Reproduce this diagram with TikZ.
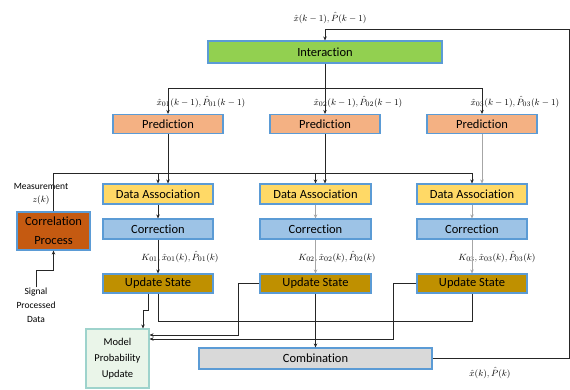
\documentclass[tikz,border=0pt]{standalone}
\usepackage{fontspec}
\setsansfont{Carlito}[RawFeature={-liga;-clig;-calt;-dlig}]
\usetikzlibrary{arrows.meta,calc}

\definecolor{edgeblue}{HTML}{5B9BD5}
\definecolor{intergreen}{HTML}{92D050}
\definecolor{predorange}{HTML}{F4B183}
\definecolor{dayellow}{HTML}{FFD966}
\definecolor{corblue}{HTML}{9DC3E6}
\definecolor{updgold}{HTML}{BF9000}
\definecolor{corrbrown}{HTML}{C55A11}
\definecolor{combgray}{HTML}{D9D9D9}
\definecolor{mpufill}{HTML}{EAF5E9}
\definecolor{mpuedge}{HTML}{9ED3CC}
\definecolor{linedark}{HTML}{262626}
\definecolor{linegray}{HTML}{A6A6A6}

\tikzset{
  box/.style={draw=edgeblue, line width=1.1pt, rectangle, inner sep=0pt,
    font=\sffamily\fontsize{12.5}{14}\selectfont, text=black, align=center},
  colbox/.style={box, minimum width=110pt, minimum height=20pt},
  conn/.style={draw=linedark, line width=0.9pt},
  arr/.style={conn, -{Stealth[length=4pt,width=3.5pt]}},
  garr/.style={draw=linegray, line width=0.8pt, -{Stealth[length=4pt,width=3.5pt]}},
  mathlbl/.style={font=\fontsize{9.5}{11}\selectfont, inner sep=0pt},
  smalltxt/.style={font=\sffamily\fontsize{9.5}{14}\selectfont, align=center, inner sep=0pt}
}

\begin{document}
\begin{tikzpicture}[x=1pt,y=-1pt]
\useasboundingbox (0,0) rectangle (570,389);

% main boxes
\node[box, fill=intergreen, minimum width=234pt, minimum height=22pt] (inter) at (325,52) {Interaction};

\node[colbox, fill=predorange, minimum height=19pt] (pred1) at (168,124) {Prediction};
\node[colbox, fill=predorange, minimum height=19pt] (pred2) at (325,124) {Prediction};
\node[colbox, fill=predorange, minimum height=19pt] (pred3) at (482,124) {Prediction};

\node[colbox, fill=dayellow] (da1) at (158,194) {Data Association};
\node[colbox, fill=dayellow, minimum width=111pt] (da2) at (315.5,194) {Data Association};
\node[colbox, fill=dayellow] (da3) at (472,194) {Data Association};

\node[colbox, fill=corblue] (cor1) at (158,229) {Correction};
\node[colbox, fill=corblue, minimum width=111pt] (cor2) at (315.5,229) {Correction};
\node[colbox, fill=corblue] (cor3) at (472,229) {Correction};

\node[colbox, fill=updgold, minimum height=19pt] (us1) at (158,283.5) {Update State};
\node[colbox, fill=updgold, minimum height=19pt, minimum width=111pt] (us2) at (315.5,283.5) {Update State};
\node[colbox, fill=updgold, minimum height=19pt] (us3) at (472,283.5) {Update State};

\node[box, fill=corrbrown, minimum width=73pt, minimum height=38pt,
      font=\sffamily\fontsize{12.5}{19}\selectfont] (corr) at (53.5,231) {Correlation\\Process};

\node[box, draw=mpuedge, fill=mpufill, minimum width=63pt, minimum height=59pt,
      font=\sffamily\fontsize{10.5}{16}\selectfont] (mpu) at (117.5,358.5) {Model\\Probability\\Update};

\node[box, fill=combgray, minimum width=233pt, minimum height=21pt] (comb) at (315.5,358.5) {Combination};

% text labels
\node[mathlbl] (lblTop) at (330,18) {$\hat{x}(k-1),\hat{P}(k-1)$};
\node[mathlbl] (lblP1) at (201,102) {$\hat{x}_{01}(k-1),\hat{P}_{01}(k-1)$};
\node[mathlbl] (lblP2) at (358,102) {$\hat{x}_{02}(k-1),\hat{P}_{02}(k-1)$};
\node[mathlbl] (lblP3) at (515,102) {$\hat{x}_{03}(k-1),\hat{P}_{03}(k-1)$};
\node[mathlbl] (lblK1) at (180,257) {$K_{01},\hat{x}_{01}(k),\hat{P}_{01}(k)$};
\node[mathlbl] (lblK2) at (337,257) {$K_{02},\hat{x}_{02}(k),\hat{P}_{02}(k)$};
\node[mathlbl] (lblK3) at (497,257) {$K_{03},\hat{x}_{03}(k),\hat{P}_{03}(k)$};
\node[mathlbl] (lblOut) at (490,373) {$\hat{x}(k),\hat{P}(k)$};
\node[smalltxt] (meas) at (41,186) {Measurement};
\node[mathlbl] (zk) at (41,200) {$z(k)$};
\node[smalltxt] (spd) at (36,305) {Signal\\Processed\\Data};

% feedback loop from combination back to interaction
\coordinate (fbLow) at (569,358.5);
\coordinate (fbHigh) at (569,29);
\draw[arr] (comb.east) -- (fbLow) -- (fbHigh) -| (inter.north);

% interaction fans out to the three predictions
\coordinate (fan) at (325,88);
\draw[conn] (inter.south) -- (fan);
\draw[arr] (fan) -| (pred1.north);
\draw[arr] (fan) -| (pred3.north);
\draw[arr] (fan) -- (pred2.north);

% predictions into data association
\draw[arr] (pred1.south) -- (pred1.south |- da1.north);
\draw[arr] (pred2.south) -- (pred2.south |- da2.north);
\draw[garr] (pred3.south) -- (pred3.south |- da3.north);

% measurement bus
\coordinate (mz) at (53.5,173);
\draw[conn] (corr.north) -- (mz) -- (mz -| da3.north);
\draw[arr] (mz -| da1.north) -- (da1.north);
\draw[arr] (mz -| da2.north) -- (da2.north);
\draw[arr] (mz -| da3.north) -- (da3.north);

% signal processed data into correlation
\draw[arr] (spd.north) -- ++(0,-17) -| (corr.south);

% per-model chains
\draw[arr] (da1.south) -- (cor1.north);
\draw[arr] (cor1.south) -- (us1.north);
\draw[garr] (da2.south) -- (cor2.north);
\draw[garr] (cor2.south) -- (us2.north);
\draw[garr] (da3.south) -- (cor3.north);
\draw[garr] (cor3.south) -- (us3.north);

% update states to model probability update and combination
\draw[arr] ($(us1.south)+(-10,0)$) -- ++(0,17) -| ($(mpu.north)+(25.5,0)$);
\draw[conn] (us1.south) -- ++(0,28) -| (us3.south);
\draw[arr] (us2.west) -- ++(-21,0) |- ($(mpu.east)+(0,-23.5)$);
\draw[arr] (us3.west) -- ++(-23,0) |- ($(mpu.east)+(0,-19.5)$);
\draw[arr] (us2.south) -- (comb.north);
\end{tikzpicture}
\end{document}
